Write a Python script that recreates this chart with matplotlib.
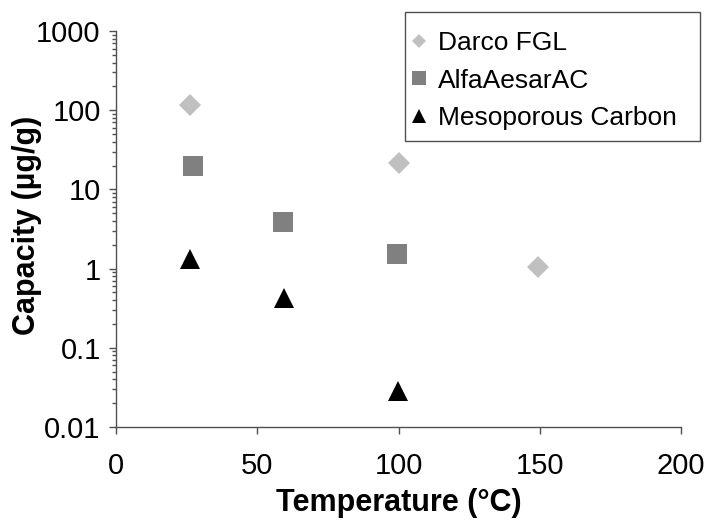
import matplotlib
matplotlib.use("Agg")
import matplotlib.pyplot as plt
from matplotlib.patches import Rectangle
from matplotlib.ticker import LogLocator, FuncFormatter, NullFormatter, MultipleLocator

plt.rcParams['font.family'] = ['Liberation Sans', 'DejaVu Sans']

series_names = ["Darco FGL", "AlfaAesarAC", "Mesoporous Carbon"]
darco_x = [26.2, 100.2, 149.4]
darco_y = [116, 21.5, 1.05]
alfa_x = [27.3, 59.1, 99.5]
alfa_y = [19.7, 3.88, 1.53]
meso_x = [26.2, 59.5, 99.9]
meso_y = [1.34, 0.42, 0.0285]

x_label = "Temperature (°C)"
y_label = "Capacity (µg/g)"

W, H = 716, 521
fig = plt.figure(figsize=(W/100, H/100), dpi=100)
ax = fig.add_axes([116/W, 1-427/H, (681-116)/W, (427-31)/H])

ax.plot(darco_x, darco_y, linestyle='none', marker='D', ms=10.7, color='#C0C0C0',
        markeredgewidth=0, label=series_names[0])
ax.plot(alfa_x, alfa_y, linestyle='none', marker='s', ms=14.4, color='#808080',
        markeredgewidth=0, label=series_names[1])
ax.plot(meso_x, meso_y, linestyle='none', marker='^', ms=15, color='black',
        markeredgewidth=0, label=series_names[2])

ax.set_yscale('log')
ax.set_ylim(0.01, 1000)
ax.set_xlim(0, 200)
ax.xaxis.set_major_locator(MultipleLocator(50))
ax.yaxis.set_major_locator(LogLocator(base=10, numticks=10))
ax.yaxis.set_minor_locator(LogLocator(base=10, subs=range(2, 10), numticks=20))
ax.yaxis.set_major_formatter(FuncFormatter(lambda v, p: f"{v:g}"))
ax.yaxis.set_minor_formatter(NullFormatter())

for s in ['top', 'right']:
    ax.spines[s].set_visible(False)
for s in ['left', 'bottom']:
    ax.spines[s].set_color('#505050')
    ax.spines[s].set_linewidth(1.0)

ax.tick_params(axis='both', which='major', direction='out', length=5, width=1,
               color='#505050', labelsize=21)
ax.tick_params(axis='x', which='major', pad=13)
ax.tick_params(axis='y', which='major', pad=6)
ax.tick_params(axis='y', which='minor', direction='out', length=3, width=1, color='#505050')

ax.set_xlabel(x_label, fontsize=22, fontweight='bold', va='top')
ax.xaxis.set_label_coords(0.5, (427-488)/396)
ax.set_ylabel(y_label, fontsize=22, fontweight='bold')
ax.yaxis.set_label_coords((42-116)/565, 0.51)

leg = fig.legend(loc='upper left', bbox_to_anchor=(404/W, 1-31/H), fontsize=19,
                 frameon=False, markerscale=0.7, handletextpad=0.1,
                 borderpad=0, labelspacing=0.52, handlelength=1.17, borderaxespad=0)
fig.add_artist(Rectangle((405/W, 1-141/H), (700-405)/W, (141-12)/H,
                         transform=fig.transFigure, fill=False,
                         edgecolor='#505050', linewidth=1.0))

fig.savefig("out.png", dpi=100)
